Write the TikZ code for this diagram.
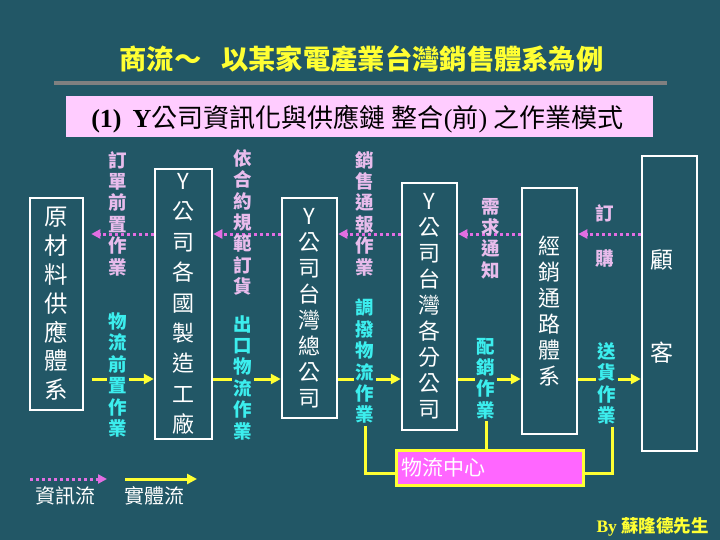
\documentclass[tikz,border=0pt]{standalone}
\usepackage{fontspec}
\setmainfont{Liberation Serif}
\newfontfamily\cjk{Noto Sans CJK TC}
\usetikzlibrary{arrows.meta}
\definecolor{bgc}{RGB}{34,87,102}
\definecolor{lilac}{RGB}{232,188,236}
\definecolor{infoc}{RGB}{226,110,226}
\definecolor{cyanc}{RGB}{60,238,238}
\definecolor{yelc}{RGB}{255,255,51}
\definecolor{magc}{RGB}{255,102,255}
\definecolor{subpink}{RGB}{255,204,255}
\definecolor{grayc}{RGB}{128,128,128}
\tikzset{
  wbox/.style={draw=white, line width=2.5pt, minimum width=55pt, inner sep=0pt, text=white, align=center},
  boxtxt/.style={font=\cjk\fontsize{22}{26}\selectfont},
  infoarrow/.style={draw=infoc, line width=3pt, dash pattern=on 3pt off 3pt, -{Triangle[length=9pt,width=9pt]}},
  physarrow/.style={draw=yelc, line width=3pt, -{Triangle[length=10pt,width=10pt]}},
  physline/.style={draw=yelc, line width=3pt},
  pinklab/.style={text=lilac, align=center, inner sep=1pt, font=\cjk\bfseries\fontsize{18.5}{21.4}\selectfont},
  cyanlab/.style={text=cyanc, fill=bgc, align=center, inner sep=2pt, font=\cjk\bfseries\fontsize{18.5}{21.4}\selectfont},
}
\begin{document}
\begin{tikzpicture}[x=1pt,y=-1pt]
\fill[bgc] (0,0) rectangle (720,540);
\useasboundingbox (0,0) rectangle (720,540);

% title
\node[text=yelc, font=\cjk\bfseries\fontsize{27.3}{30}\selectfont] (title) at (361.5,59) {商流～\hspace{20pt}以某家電產業台灣銷售體系為例};
\coordinate (gl) at (54,83);
\coordinate (gr) at (667,83);
\draw[grayc, line width=3.5pt] (gl) -- (gr);
\node[fill=subpink, minimum width=587pt, minimum height=41pt, inner sep=0pt] (subbox) at (359.5,116.5) {};
\node[text=black, font=\fontsize{26}{28}\selectfont, inner sep=0pt] (subtxt) at (357.5,119)
  {\textbf{(1)}\hspace{11pt}\textbf{Y}{\cjk 公司資訊化與供應鏈} {\cjk 整合}({\cjk 前}) {\cjk 之作業模式}};

% boxes
\node[wbox, minimum width=53pt, minimum height=212pt, font=\cjk\fontsize{23.5}{28.8}\selectfont] (raw) at (56.5,304) {原\\材\\料\\供\\應\\體\\系};
\node[wbox, minimum width=57pt, minimum height=270pt, font=\cjk\fontsize{22}{30.4}\selectfont] (fac) at (183.5,304) {Y\\公\\司\\各\\國\\製\\造\\工\\廠};
\node[wbox, boxtxt, minimum height=220pt] (hq) at (309.5,308) {Y\\公\\司\\台\\灣\\總\\公\\司};
\node[wbox, boxtxt, minimum height=247pt] (br) at (429.5,306.5) {Y\\公\\司\\台\\灣\\各\\分\\公\\司};
\node[wbox, boxtxt, minimum height=246pt] (dl) at (549.5,311) {經\\銷\\通\\路\\體\\系};
\node[wbox, minimum height=295pt] (cu) at (669.5,303.5) {};
\node[text=white, font=\cjk\fontsize{23}{26}\selectfont] (cu1) at (662,260) {顧};
\node[text=white, font=\cjk\fontsize{23}{26}\selectfont] (cu2) at (662,353) {客};

% flow levels
\coordinate (yi) at (0,234);
\coordinate (yp) at (0,379);

% information arrows
\draw[infoarrow, shorten >=7pt] (fac.west |- yi) -- (raw.east |- yi);
\draw[infoarrow] (hq.west |- yi) -- (fac.east |- yi);
\draw[infoarrow] (br.west |- yi) -- (hq.east |- yi);
\draw[infoarrow] (dl.west |- yi) -- (br.east |- yi);
\draw[infoarrow] (cu.west |- yi) -- (dl.east |- yi);

% physical arrows
\draw[physarrow, shorten <=8pt] (raw.east |- yp) -- (fac.west |- yp);
\draw[physarrow] (fac.east |- yp) -- (hq.west |- yp);
\draw[physarrow] (hq.east |- yp) -- (br.west |- yp);
\draw[physarrow] (br.east |- yp) -- (dl.west |- yp);
\draw[physarrow] (dl.east |- yp) -- (cu.west |- yp);

% labels
\node[pinklab] (lb1) at (118,213.5) {訂\\單\\前\\置\\作\\業};
\node[cyanlab] (lb2) at (118,375) {物\\流\\前\\置\\作\\業};
\node[pinklab] (lb3) at (243,222.5) {依\\合\\約\\規\\範\\訂\\貨};
\node[cyanlab] (lb4) at (243,377.5) {出\\口\\物\\流\\作\\業};
\node[pinklab] (lb5) at (365,213.5) {銷\\售\\通\\報\\作\\業};
\node[cyanlab] (lb6) at (365,361.5) {調\\撥\\物\\流\\作\\業};
\node[pinklab] (lb7) at (491,238.5) {需\\求\\通\\知};
\node[cyanlab] (lb8) at (486,378.5) {配\\銷\\作\\業};
\node[pinklab] (lb9a) at (605,213) {訂};
\node[pinklab] (lb9b) at (605,258) {購};
\node[cyanlab] (lb10) at (607,383.5) {送\\貨\\作\\業};

% logistics center
\node[fill=magc, draw=yelc, line width=3pt, minimum width=187pt, minimum height=35pt, inner sep=0pt] (lc) at (489.5,467.5) {};
\node[anchor=west, text=white, font=\cjk\fontsize{21}{24}\selectfont, inner sep=0pt] (lct) at ([xshift=7pt]lc.west) {物流中心};
\draw[physline] (lb6.south) |- ([yshift=-5.5pt]lc.west);
\draw[physline] (lb8.south) -- (lb8.south |- lc.north);
\draw[physline] ([xshift=5pt]lb10.south) |- ([yshift=-5.5pt]lc.east);

% legend
\coordinate (l1a) at (30,479);
\coordinate (l1b) at (107,479);
\draw[infoarrow] (l1a) -- (l1b);
\node[text=white, font=\cjk\fontsize{20}{24}\selectfont] (l1t) at (65,496) {資訊流};
\coordinate (l2a) at (125,479);
\coordinate (l2b) at (197,479);
\draw[physarrow] (l2a) -- (l2b);
\node[text=white, font=\cjk\fontsize{20}{24}\selectfont] (l2t) at (154,496) {實體流};

% signature
\node[anchor=east, text=yelc, font=\fontsize{17.5}{20}\selectfont, inner sep=0pt] (sig) at (709,527) {\textbf{By} {\cjk\bfseries 蘇隆德先生}};
\end{tikzpicture}
\end{document}
